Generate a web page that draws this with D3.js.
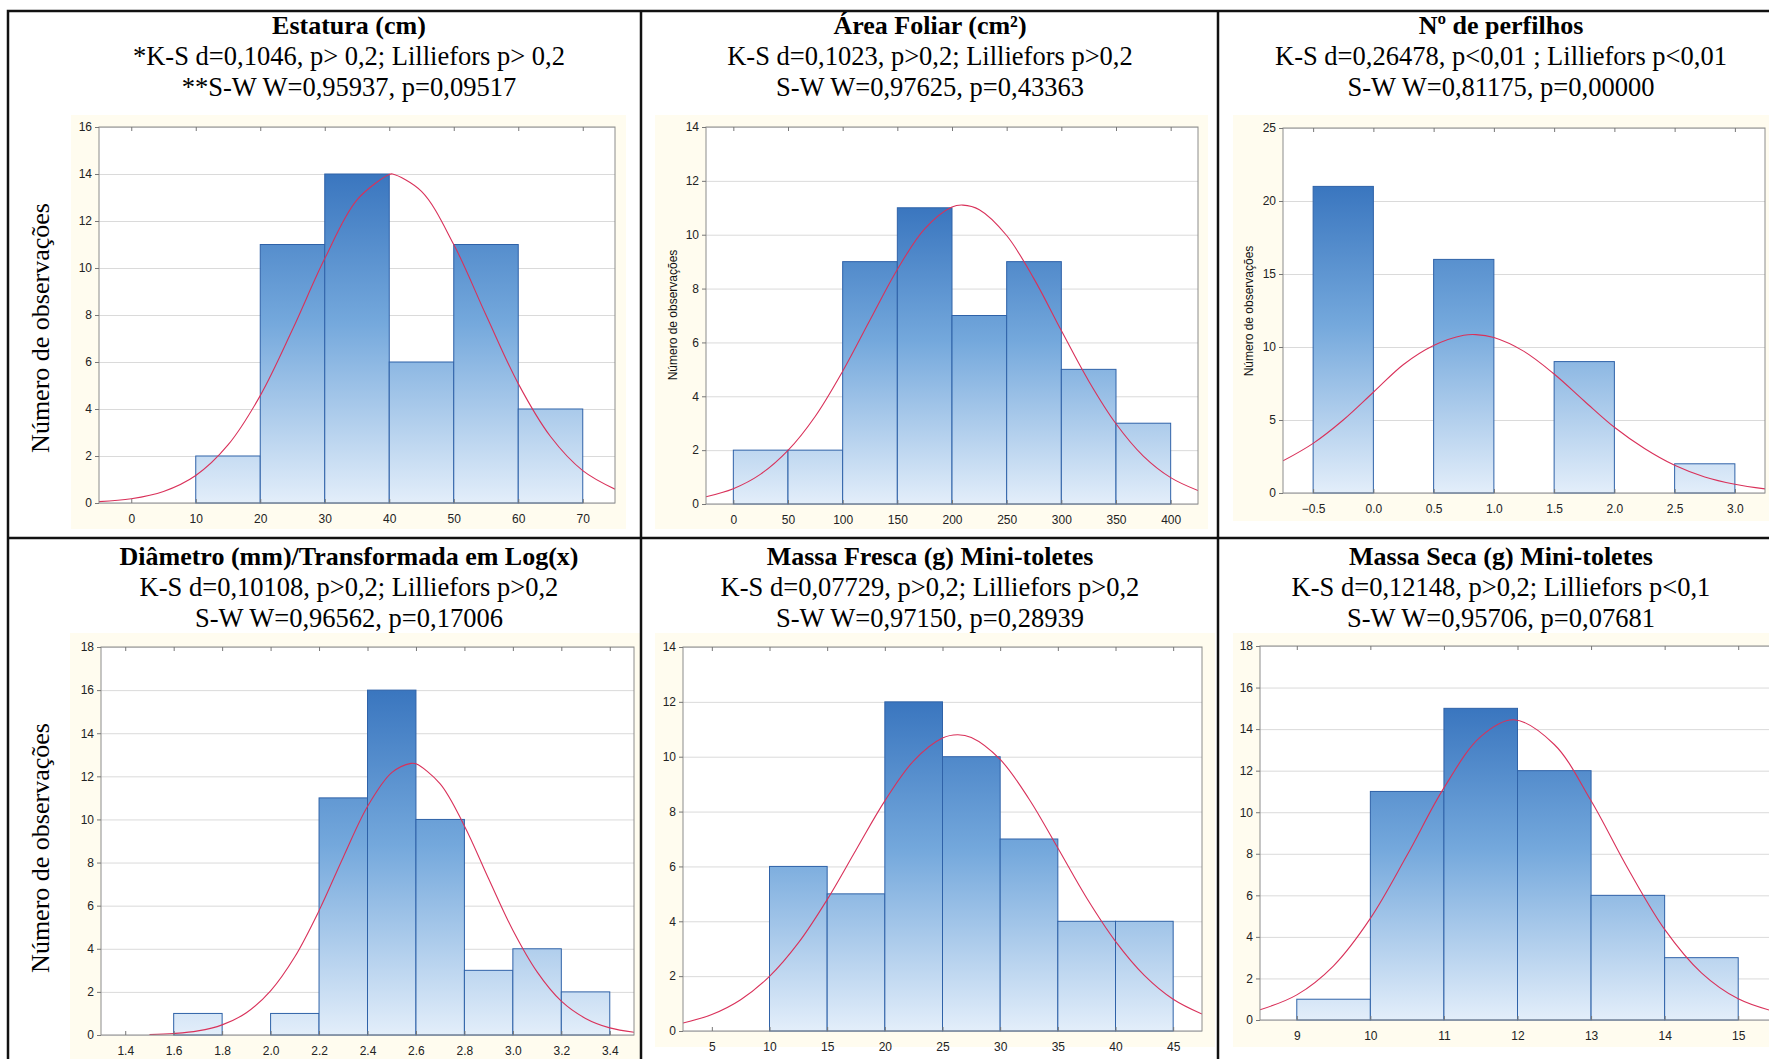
<!DOCTYPE html>
<html>
<head>
<meta charset="utf-8">
<script src="https://cdn.jsdelivr.net/npm/d3@7"></script>
<style>
  body { margin: 0; background: #fff; }
  svg { display: block; }
  .ttl { font-family: "Liberation Serif", "Times New Roman", serif; font-weight: bold; font-size: 26px; fill: #000; }
  .sub { font-family: "Liberation Serif", "Times New Roman", serif; font-size: 26.5px; fill: #000; }
  .bigLab { font-family: "Liberation Serif", "Times New Roman", serif; font-size: 26px; fill: #000; }
  .smallLab { font-family: "Liberation Sans", Arial, sans-serif; font-size: 12px; fill: #111; }
  .tick text { font-family: "Liberation Sans", Arial, sans-serif; font-size: 12px; fill: #222; }
</style>
</head>
<body>
<div id="chart"></div>
<script>
// ---- data ----
var titles = ["Estatura (cm)", "Área Foliar (cm²)", "Nº de perfilhos",
              "Diâmetro (mm)/Transformada em Log(x)", "Massa Fresca (g) Mini-toletes", "Massa Seca (g) Mini-toletes"];
var ksLines = ["*K-S d=0,1046, p> 0,2; Lilliefors p> 0,2",
               "K-S d=0,1023, p>0,2; Lilliefors p>0,2",
               "K-S d=0,26478, p<0,01 ; Lilliefors p<0,01",
               "K-S d=0,10108, p>0,2; Lilliefors p>0,2",
               "K-S d=0,07729, p>0,2; Lilliefors p>0,2",
               "K-S d=0,12148, p>0,2; Lilliefors p<0,1"];
var swLines = ["**S-W W=0,95937, p=0,09517",
               "S-W W=0,97625, p=0,43363",
               "S-W W=0,81175, p=0,00000",
               "S-W W=0,96562, p=0,17006",
               "S-W W=0,97150, p=0,28939",
               "S-W W=0,95706, p=0,07681"];
var yLabel = "Número de observações";

// Estatura
var estaturaLo = [10, 20, 30, 40, 50, 60];
var estaturaHi = [20, 30, 40, 50, 60, 70];
var estaturaCounts = [2, 11, 14, 6, 11, 4];
var estaturaXRange = [-5, 75];
var estaturaXTicks = [0, 10, 20, 30, 40, 50, 60, 70];
var estaturaYTicks = [0, 2, 4, 6, 8, 10, 12, 14, 16];
var estaturaCurveX = [-5, 0, 5, 10, 15, 20, 25, 30, 35, 40, 40.5, 45, 50, 55, 60, 65, 70, 75];
var estaturaCurveY = [0.06, 0.18, 0.49, 1.17, 2.47, 4.57, 7.38, 10.4, 12.9, 13.98, 14.0, 13.26, 11.0, 8.0, 5.08, 2.83, 1.38, 0.59];

// Área foliar
var areaLo = [0, 50, 100, 150, 200, 250, 300, 350];
var areaHi = [50, 100, 150, 200, 250, 300, 350, 400];
var areaCounts = [2, 2, 9, 11, 7, 9, 5, 3];
var areaXRange = [-25, 425];
var areaXTicks = [0, 50, 100, 150, 200, 250, 300, 350, 400];
var areaYTicks = [0, 2, 4, 6, 8, 10, 12, 14];
var areaCurveX = [-25, 0, 25, 50, 75, 100, 125, 150, 175, 200, 210, 225, 250, 275, 300, 325, 350, 375, 400, 425];
var areaCurveY = [0.27, 0.57, 1.11, 1.99, 3.26, 4.93, 6.83, 8.71, 10.22, 11.03, 11.1, 10.93, 9.97, 8.36, 6.44, 4.57, 2.98, 1.78, 0.98, 0.5];

// Nº de perfilhos
var perfilhosLo = [-0.5, 0.5, 1.5, 2.5];
var perfilhosHi = [0, 1, 2, 3];
var perfilhosCounts = [21, 16, 9, 2];
var perfilhosXRange = [-0.75, 3.25];
var perfilhosXTicks = [-0.5, 0, 0.5, 1, 1.5, 2, 2.5, 3];
var perfilhosYTicks = [0, 5, 10, 15, 20, 25];
var perfilhosCurveX = [-0.75, -0.5, -0.25, 0, 0.25, 0.5, 0.75, 0.85, 1.0, 1.25, 1.5, 1.75, 2.0, 2.25, 2.5, 2.75, 3.0, 3.25];
var perfilhosCurveY = [2.2, 3.4, 5.0, 6.9, 8.8, 10.1, 10.8, 10.85, 10.65, 9.7, 8.15, 6.3, 4.5, 3.05, 1.9, 1.1, 0.6, 0.28];

// Diâmetro (log)
var diametroLo = [1.6, 2.0, 2.2, 2.4, 2.6, 2.8, 3.0, 3.2];
var diametroHi = [1.8, 2.2, 2.4, 2.6, 2.8, 3.0, 3.2, 3.4];
var diametroCounts = [1, 1, 11, 16, 10, 3, 4, 2];
var diametroXRange = [1.3, 3.5];
var diametroXTicks = [1.4, 1.6, 1.8, 2.0, 2.2, 2.4, 2.6, 2.8, 3.0, 3.2, 3.4];
var diametroYTicks = [0, 2, 4, 6, 8, 10, 12, 14, 16, 18];
var diametroCurveX = [1.5, 1.6, 1.7, 1.8, 1.9, 2.0, 2.1, 2.2, 2.3, 2.4, 2.5, 2.58, 2.6, 2.7, 2.8, 2.9, 3.0, 3.1, 3.2, 3.3, 3.4, 3.5];
var diametroCurveY = [0.02, 0.07, 0.19, 0.47, 1.03, 2.05, 3.63, 5.77, 8.25, 10.6, 12.17, 12.6, 12.58, 11.65, 9.7, 7.25, 4.86, 2.93, 1.57, 0.77, 0.33, 0.13];

// Massa fresca
var frescaLo = [10, 15, 20, 25, 30, 35, 40];
var frescaHi = [15, 20, 25, 30, 35, 40, 45];
var frescaCounts = [6, 5, 12, 10, 7, 4, 4];
var frescaXRange = [2.5, 47.5];
var frescaXTicks = [5, 10, 15, 20, 25, 30, 35, 40, 45];
var frescaYTicks = [0, 2, 4, 6, 8, 10, 12, 14];
var frescaCurveX = [2.5, 5, 7.5, 10, 12.5, 15, 17.5, 20, 22.5, 25, 26.3, 27.5, 30, 32.5, 35, 37.5, 40, 42.5, 45, 47.5];
var frescaCurveY = [0.29, 0.6, 1.14, 1.99, 3.21, 4.79, 6.6, 8.39, 9.85, 10.68, 10.8, 10.7, 9.9, 8.46, 6.67, 4.85, 3.27, 2.03, 1.16, 0.62];

// Massa seca
var secaLo = [9, 10, 11, 12, 13, 14];
var secaHi = [10, 11, 12, 13, 14, 15];
var secaCounts = [1, 11, 15, 12, 6, 3];
var secaXRange = [8.5, 15.5];
var secaXTicks = [9, 10, 11, 12, 13, 14, 15];
var secaYTicks = [0, 2, 4, 6, 8, 10, 12, 14, 16, 18];
var secaCurveX = [8.5, 9, 9.5, 10, 10.5, 11, 11.5, 11.95, 12.5, 13, 13.5, 14, 14.5, 15, 15.5];
var secaCurveY = [0.49, 1.21, 2.61, 4.89, 7.94, 11.17, 13.64, 14.45, 13.26, 10.55, 7.29, 4.36, 2.27, 1.02, 0.4];

// ---- layout ----
var W = 1769, H = 1059;
var svg = d3.select("#chart").append("svg").attr("width", W).attr("height", H);
var defs = svg.append("defs");

var panels = [
  { lo: estaturaLo, hi: estaturaHi, n: estaturaCounts, xr: estaturaXRange, xt: estaturaXTicks, yt: estaturaYTicks, cx: estaturaCurveX, cy: estaturaCurveY,
    fmt: "d", bg: [71, 115, 626, 529], plot: [99, 127, 615, 503], mid: 349, textY: [34, 65, 96], lab: "big", labY: 328 },
  { lo: areaLo, hi: areaHi, n: areaCounts, xr: areaXRange, xt: areaXTicks, yt: areaYTicks, cx: areaCurveX, cy: areaCurveY,
    fmt: "d", bg: [655, 115, 1208, 529], plot: [706, 127, 1198, 504], mid: 930, textY: [34, 65, 96], lab: "small", labX: 673, labY: 315 },
  { lo: perfilhosLo, hi: perfilhosHi, n: perfilhosCounts, xr: perfilhosXRange, xt: perfilhosXTicks, yt: perfilhosYTicks, cx: perfilhosCurveX, cy: perfilhosCurveY,
    fmt: ".1f", bg: [1233, 115, 1780, 521], plot: [1283, 128, 1765, 493], mid: 1501, textY: [34, 65, 96], lab: "small", labX: 1249, labY: 311 },
  { lo: diametroLo, hi: diametroHi, n: diametroCounts, xr: diametroXRange, xt: diametroXTicks, yt: diametroYTicks, cx: diametroCurveX, cy: diametroCurveY,
    fmt: ".1f", bg: [70, 633, 640, 1070], plot: [101, 647, 634, 1035], mid: 349, textY: [565, 596, 627], lab: "big", labY: 848 },
  { lo: frescaLo, hi: frescaHi, n: frescaCounts, xr: frescaXRange, xt: frescaXTicks, yt: frescaYTicks, cx: frescaCurveX, cy: frescaCurveY,
    fmt: "d", bg: [655, 633, 1215, 1047], plot: [683, 647, 1202, 1031], mid: 930, textY: [565, 596, 627], lab: null },
  { lo: secaLo, hi: secaHi, n: secaCounts, xr: secaXRange, xt: secaXTicks, yt: secaYTicks, cx: secaCurveX, cy: secaCurveY,
    fmt: "d", bg: [1233, 633, 1780, 1047], plot: [1260, 646, 1775, 1020], mid: 1501, textY: [565, 596, 627], lab: null }
];

panels.forEach(function(p, i) {
  var g = svg.append("g");
  var pw = p.plot[2] - p.plot[0], ph = p.plot[3] - p.plot[1];

  // cream chart background
  g.append("rect").attr("x", p.bg[0]).attr("y", p.bg[1])
    .attr("width", p.bg[2] - p.bg[0]).attr("height", p.bg[3] - p.bg[1])
    .attr("fill", "#fffcef");
  g.append("rect").attr("x", p.plot[0]).attr("y", p.plot[1])
    .attr("width", pw).attr("height", ph).attr("fill", "#fff");

  var x = d3.scaleLinear().domain(p.xr).range([p.plot[0], p.plot[2]]);
  var y = d3.scaleLinear().domain([0, p.yt[p.yt.length - 1]]).range([p.plot[3], p.plot[1]]);

  // gridlines
  g.append("g").attr("transform", "translate(" + p.plot[0] + ",0)")
    .call(d3.axisLeft(y).tickValues(p.yt).tickSize(-pw).tickFormat(""))
    .call(function(a) {
      a.select(".domain").remove();
      a.selectAll("line").attr("stroke", "#dadada");
    });

  // gradient shared by all bars of the panel
  var maxN = d3.max(p.n);
  var grad = defs.append("linearGradient").attr("id", "grad" + i)
    .attr("gradientUnits", "userSpaceOnUse")
    .attr("x1", 0).attr("x2", 0).attr("y1", y(maxN)).attr("y2", y(0));
  grad.append("stop").attr("offset", "0%").attr("stop-color", "#3a76bf");
  grad.append("stop").attr("offset", "45%").attr("stop-color", "#74a8dc");
  grad.append("stop").attr("offset", "100%").attr("stop-color", "#e3eefa");

  g.selectAll(".bar").data(p.n).enter().append("rect")
    .attr("class", "bar")
    .attr("x", function(d, k) { return x(p.lo[k]); })
    .attr("y", function(d) { return y(d); })
    .attr("width", function(d, k) { return x(p.hi[k]) - x(p.lo[k]); })
    .attr("height", function(d) { return y(0) - y(d); })
    .attr("fill", "url(#grad" + i + ")")
    .attr("stroke", "#2f62a8")
    .attr("stroke-width", 1);

  // fitted normal curve
  defs.append("clipPath").attr("id", "clip" + i).append("rect")
    .attr("x", p.plot[0]).attr("y", p.plot[1]).attr("width", pw).attr("height", ph);
  var line = d3.line()
    .x(function(d) { return x(d[0]); })
    .y(function(d) { return y(d[1]); })
    .curve(d3.curveCatmullRom.alpha(0.5));
  g.append("path")
    .datum(p.cx.map(function(v, k) { return [v, p.cy[k]]; }))
    .attr("clip-path", "url(#clip" + i + ")")
    .attr("d", line)
    .attr("fill", "none")
    .attr("stroke", "#d9315a")
    .attr("stroke-width", 1.1);

  // frame
  g.append("rect").attr("x", p.plot[0]).attr("y", p.plot[1])
    .attr("width", pw).attr("height", ph)
    .attr("fill", "none").attr("stroke", "#8c8c8c").attr("stroke-width", 1);

  // axes
  var fmt = d3.format(p.fmt);
  g.append("g").attr("transform", "translate(" + p.plot[0] + ",0)")
    .call(d3.axisLeft(y).tickValues(p.yt).tickSize(4).tickPadding(3))
    .call(function(a) { a.select(".domain").remove(); a.selectAll("line").attr("stroke", "#777"); });
  g.append("g").attr("transform", "translate(0," + p.plot[3] + ")")
    .call(d3.axisBottom(x).tickValues(p.xt).tickSize(-4).tickPadding(11).tickFormat(fmt))
    .call(function(a) { a.select(".domain").remove(); a.selectAll("line").attr("stroke", "#777"); });
  g.append("g").attr("transform", "translate(0," + p.plot[1] + ")")
    .call(d3.axisTop(x).tickValues(p.xt).tickSize(-4).tickFormat(""))
    .call(function(a) { a.select(".domain").remove(); a.selectAll("line").attr("stroke", "#777"); });

  // texts
  g.append("text").attr("class", "ttl").attr("x", p.mid).attr("y", p.textY[0])
    .attr("text-anchor", "middle").text(titles[i]);
  g.append("text").attr("class", "sub").attr("x", p.mid).attr("y", p.textY[1])
    .attr("text-anchor", "middle").text(ksLines[i]);
  g.append("text").attr("class", "sub").attr("x", p.mid).attr("y", p.textY[2])
    .attr("text-anchor", "middle").text(swLines[i]);

  if (p.lab === "big") {
    g.append("text").attr("class", "bigLab")
      .attr("transform", "translate(40," + p.labY + ") rotate(-90)")
      .attr("text-anchor", "middle").attr("dominant-baseline", "central")
      .text(yLabel);
  } else if (p.lab === "small") {
    g.append("text").attr("class", "smallLab")
      .attr("transform", "translate(" + p.labX + "," + p.labY + ") rotate(-90)")
      .attr("text-anchor", "middle").attr("dominant-baseline", "central")
      .text(yLabel);
  }
});

// table borders
var grid = svg.append("g").attr("stroke", "#111").attr("stroke-width", 2.5).attr("fill", "none");
grid.append("rect").attr("x", 8).attr("y", 11).attr("width", 1800).attr("height", 1100);
[641, 1218].forEach(function(v) {
  grid.append("line").attr("x1", v).attr("x2", v).attr("y1", 11).attr("y2", H + 10);
});
grid.append("line").attr("x1", 8).attr("x2", W + 10).attr("y1", 538).attr("y2", 538);
</script>
</body>
</html>
